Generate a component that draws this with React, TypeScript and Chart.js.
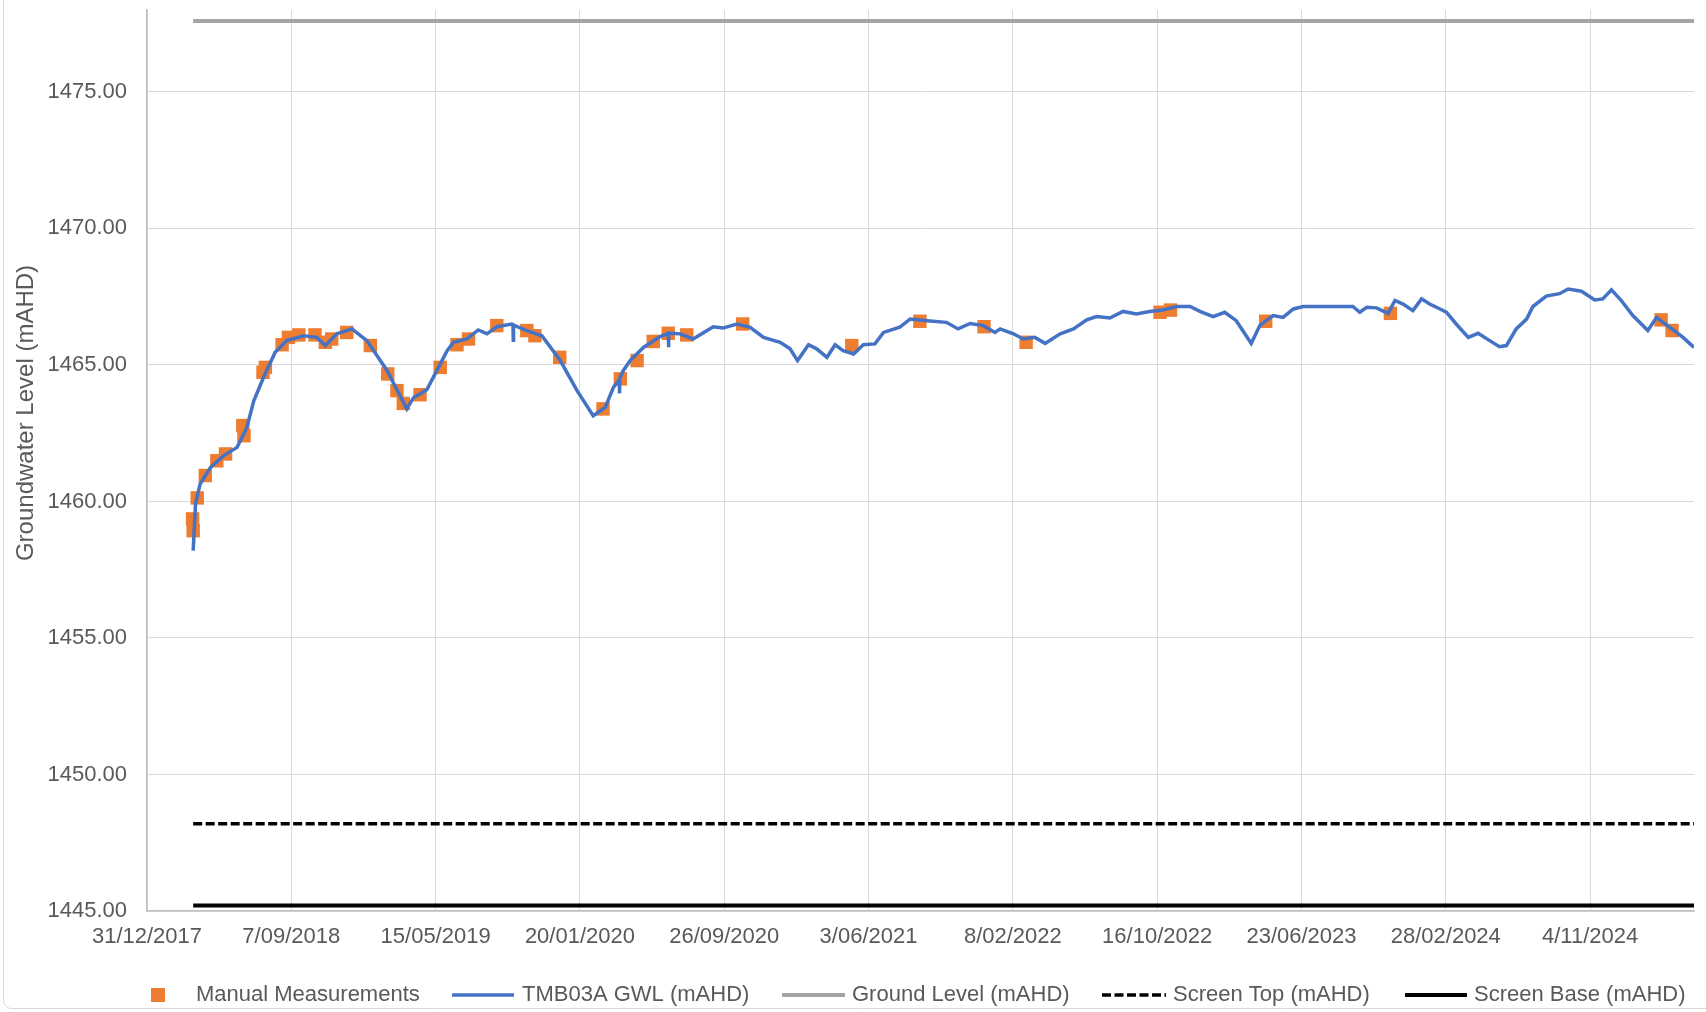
import React, { useEffect, useRef } from "react";
import { Chart, registerables } from "chart.js";

Chart.register(...registerables);

// ---------------- DATA ----------------
// x values are days since 31/12/2017
const BASE_DATE_UTC = Date.UTC(2017, 11, 31);
const xTickDays = [0, 250, 500, 750, 1000, 1250, 1500, 1750, 2000, 2250, 2500];
const yTickValues = [1445, 1450, 1455, 1460, 1465, 1470, 1475];

const gwlDay = [
  80, 84, 92, 110, 133, 156, 173, 185, 202, 222,
  242, 271, 294, 309, 329, 355, 381, 416, 450, 462,
  473, 485, 502, 520, 531, 554, 574, 589, 606, 632,
  634, 634.5, 635, 658, 684, 716, 745, 773, 794, 808,
  818, 818.5, 819, 825, 837, 860, 889, 903, 903.5, 904,
  923, 946, 981, 998, 1022, 1045, 1068, 1097, 1114, 1127,
  1146, 1160, 1178, 1192, 1206, 1224, 1241, 1261, 1276, 1304,
  1322, 1351, 1385, 1405, 1426, 1449, 1469, 1478, 1501, 1518,
  1538, 1556, 1582, 1605, 1628, 1645, 1668, 1691, 1714, 1737,
  1760, 1784, 1807, 1824, 1847, 1867, 1887, 1913, 1928, 1939,
  1951, 1968, 1986, 2003, 2089, 2101, 2113, 2130, 2150, 2162,
  2176, 2193, 2208, 2222, 2240, 2251, 2268, 2289, 2306, 2326,
  2343, 2355, 2372, 2390, 2401, 2424, 2447, 2462, 2485, 2508,
  2522, 2537, 2554, 2574, 2600, 2615, 2638, 2661, 2680,
];
const gwlLevel = [
  1458.2, 1459.9, 1460.64, 1461.25, 1461.68, 1461.98, 1462.71, 1463.69, 1464.55, 1465.46,
  1465.89, 1466.07, 1466.01, 1465.71, 1466.14, 1466.32, 1465.89, 1464.79, 1463.39, 1463.81,
  1463.94, 1464.1, 1464.79, 1465.52, 1465.83, 1465.95, 1466.28, 1466.14, 1466.4, 1466.5,
  1466.48, 1465.9, 1466.46, 1466.26, 1466.07, 1465.16, 1464.06, 1463.14, 1463.45, 1464.18,
  1464.45, 1463.96, 1464.5, 1464.79, 1465.16, 1465.64, 1466.04, 1466.16, 1465.65, 1466.16,
  1466.14, 1465.95, 1466.4, 1466.35, 1466.5, 1466.38, 1466.01, 1465.83, 1465.59, 1465.16,
  1465.74, 1465.59, 1465.28, 1465.74, 1465.52, 1465.4, 1465.74, 1465.77, 1466.19, 1466.38,
  1466.68, 1466.62, 1466.56, 1466.32, 1466.52, 1466.44, 1466.19, 1466.32, 1466.14, 1465.95,
  1466.01, 1465.79, 1466.14, 1466.32, 1466.65, 1466.77, 1466.72, 1466.96, 1466.87, 1466.96,
  1467.01, 1467.14, 1467.14, 1466.96, 1466.77, 1466.93, 1466.62, 1465.79, 1466.45, 1466.62,
  1466.81, 1466.74, 1467.05, 1467.14, 1467.14, 1466.93, 1467.11, 1467.09, 1466.89, 1467.36,
  1467.23, 1466.99, 1467.42, 1467.23, 1467.05, 1466.93, 1466.5, 1466.01, 1466.16, 1465.89,
  1465.67, 1465.71, 1466.32, 1466.68, 1467.14, 1467.52, 1467.61, 1467.78, 1467.7, 1467.38,
  1467.42, 1467.75, 1467.36, 1466.81, 1466.26, 1466.74, 1466.38, 1466.01, 1465.64,
];

const manualDay = [
  79, 80, 87, 101, 121, 136, 166, 168, 201, 205,
  234, 245, 263, 291, 309, 320, 346, 387, 417, 433,
  444, 473, 508, 537, 557, 606, 658, 672, 715, 790,
  820, 849, 877, 903, 935, 1032, 1221, 1339, 1450, 1523,
  1755, 1773, 1938, 2154, 2623, 2642,
];
const manualLevel = [
  1459.36, 1458.93, 1460.13, 1460.95, 1461.49, 1461.74, 1462.78, 1462.41, 1464.73, 1464.91,
  1465.74, 1466.01, 1466.1, 1466.1, 1465.83, 1465.95, 1466.19, 1465.71, 1464.67, 1464.06,
  1463.59, 1463.91, 1464.91, 1465.74, 1465.95, 1466.44, 1466.26, 1466.07, 1465.28, 1463.39,
  1464.49, 1465.16, 1465.86, 1466.16, 1466.1, 1466.5, 1465.71, 1466.6, 1466.4, 1465.83,
  1466.93, 1467.01, 1466.6, 1466.89, 1466.65, 1466.26,
];

const referenceDays = [80, 2680];
const groundLevel = 1477.6;
const screenTop = 1448.2;
const screenBase = 1445.2;

const seriesNames = [
  "Manual Measurements",
  "TMB03A GWL (mAHD)",
  "Ground Level (mAHD)",
  "Screen Top (mAHD)",
  "Screen Base (mAHD)",
];
const yAxisTitle = "Groundwater Level (mAHD)";

// ---------------- STYLE / LAYOUT ----------------
const FONT = "'Liberation Sans', Arial, sans-serif";
const TEXT = "#595959";
const GRID = "#d9d9d9";
const ORANGE = "#ED7D31";
const BLUE = "#4472C4";
const GREY = "#A5A5A5";
const BLACK = "#000000";
const W = 1706;
const H = 1012;

// legend symbol start x, symbol end x, text start x
const legendLayout = [
  { sx: 151, ex: 165, tx: 196 },
  { sx: 452, ex: 514, tx: 522 },
  { sx: 782, ex: 845, tx: 852 },
  { sx: 1102, ex: 1166, tx: 1173 },
  { sx: 1405, ex: 1467, tx: 1474 },
];
const legendY = 995;

function fmtDate(days: number): string {
  const d = new Date(BASE_DATE_UTC + Math.round(days) * 86400000);
  return `${d.getUTCDate()}/${String(d.getUTCMonth() + 1).padStart(2, "0")}/${d.getUTCFullYear()}`;
}

const extrasPlugin = {
  id: "extras",
  afterDraw(chart: any) {
    const ctx = chart.ctx as CanvasRenderingContext2D;
    ctx.save();
    // outer chart border (Excel chart area)
    ctx.strokeStyle = GRID;
    ctx.lineWidth = 1;
    ctx.beginPath();
    if ((ctx as any).roundRect) {
      (ctx as any).roundRect(3.5, -20, W + 20, H + 20 - 3.5, 8);
    } else {
      ctx.rect(3.5, -20, W + 20, H + 20 - 3.5);
    }
    ctx.stroke();

    // y axis title
    ctx.save();
    ctx.translate(26, 413);
    ctx.rotate(-Math.PI / 2);
    ctx.fillStyle = TEXT;
    ctx.font = `24px ${FONT}`;
    ctx.textAlign = "center";
    ctx.textBaseline = "middle";
    ctx.fillText(yAxisTitle, 0, 0);
    ctx.restore();

    // legend
    const ds = chart.data.datasets;
    ctx.font = `22px ${FONT}`;
    ctx.textBaseline = "middle";
    ctx.textAlign = "left";
    seriesNames.forEach((name, i) => {
      const lay = legendLayout[i];
      const d = ds.find((x: any) => x.label === name);
      if (!d) return;
      if (d.showLine === false) {
        ctx.fillStyle = d.backgroundColor;
        const s = lay.ex - lay.sx;
        ctx.fillRect(lay.sx, legendY - s / 2, s, s);
      } else {
        ctx.strokeStyle = d.borderColor;
        ctx.lineWidth = d.borderWidth;
        ctx.setLineDash(d.borderDash || []);
        ctx.beginPath();
        ctx.moveTo(lay.sx, legendY);
        ctx.lineTo(lay.ex, legendY);
        ctx.stroke();
        ctx.setLineDash([]);
      }
      ctx.fillStyle = TEXT;
      ctx.fillText(name, lay.tx, legendY);
    });
    ctx.restore();
  },
};

export default function App() {
  const canvasRef = useRef<HTMLCanvasElement | null>(null);

  useEffect(() => {
    const canvas = canvasRef.current;
    if (!canvas) return;
    const flat = (v: number) => referenceDays.map((d) => ({ x: d, y: v }));
    const chart = new Chart(canvas, {
      type: "line",
      data: {
        datasets: [
          {
            label: seriesNames[1],
            data: gwlDay.map((d, i) => ({ x: d, y: gwlLevel[i] })),
            borderColor: BLUE,
            backgroundColor: BLUE,
            borderWidth: 3.5,
            pointRadius: 0,
            tension: 0,
            order: 0,
          },
          {
            label: seriesNames[0],
            data: manualDay.map((d, i) => ({ x: d, y: manualLevel[i] })),
            showLine: false,
            pointStyle: "rect",
            pointRadius: 9.5,
            pointHoverRadius: 9.5,
            backgroundColor: ORANGE,
            borderColor: ORANGE,
            borderWidth: 0,
            pointBorderWidth: 0,
            order: 1,
          },
          {
            label: seriesNames[2],
            data: flat(groundLevel),
            borderColor: GREY,
            backgroundColor: GREY,
            borderWidth: 4,
            pointRadius: 0,
            order: 2,
          },
          {
            label: seriesNames[3],
            data: flat(screenTop),
            borderColor: BLACK,
            backgroundColor: BLACK,
            borderWidth: 3.5,
            borderDash: [9, 3.5],
            pointRadius: 0,
            order: 3,
          },
          {
            label: seriesNames[4],
            data: flat(screenBase),
            borderColor: BLACK,
            backgroundColor: BLACK,
            borderWidth: 4,
            pointRadius: 0,
            order: 4,
          },
        ] as any,
      },
      options: {
        responsive: false,
        maintainAspectRatio: false,
        animation: false,
        layout: { padding: { top: 10, right: 12, left: 0, bottom: 0 } },
        plugins: {
          legend: { display: false },
          tooltip: { enabled: false },
        },
        scales: {
          x: {
            type: "linear",
            min: 0,
            max: 2680,
            afterBuildTicks: (s: any) => {
              s.ticks = xTickDays.map((v) => ({ value: v }));
            },
            afterFit: (s: any) => {
              s.height = 101;
              s.paddingLeft = 0;
              s.paddingRight = 0;
            },
            ticks: {
              callback: (v: any) => fmtDate(Number(v)),
              color: TEXT,
              font: { family: FONT, size: 22 },
              padding: 13,
              maxRotation: 0,
              autoSkip: false,
            },
            grid: { color: GRID, lineWidth: 1, drawTicks: false },
            border: { color: "#bfbfbf", width: 1.5 },
          },
          y: {
            type: "linear",
            min: 1445,
            max: 1478,
            afterBuildTicks: (s: any) => {
              s.ticks = yTickValues.map((v) => ({ value: v }));
            },
            afterFit: (s: any) => {
              s.width = 147;
              s.paddingTop = 0;
              s.paddingBottom = 0;
            },
            ticks: {
              callback: (v: any) => Number(v).toFixed(2),
              color: TEXT,
              font: { family: FONT, size: 22 },
              padding: 20,
              autoSkip: false,
            },
            grid: { color: GRID, lineWidth: 1, drawTicks: false },
            border: { color: "#bfbfbf", width: 1.5 },
          },
        },
      } as any,
      plugins: [extrasPlugin],
    });
    return () => chart.destroy();
  }, []);

  return (
    <div
      style={{
        position: "fixed",
        left: 0,
        top: 0,
        width: W,
        height: H,
        background: "#ffffff",
      }}
    >
      <canvas ref={canvasRef} width={W} height={H} style={{ width: W, height: H, display: "block" }} />
    </div>
  );
}
